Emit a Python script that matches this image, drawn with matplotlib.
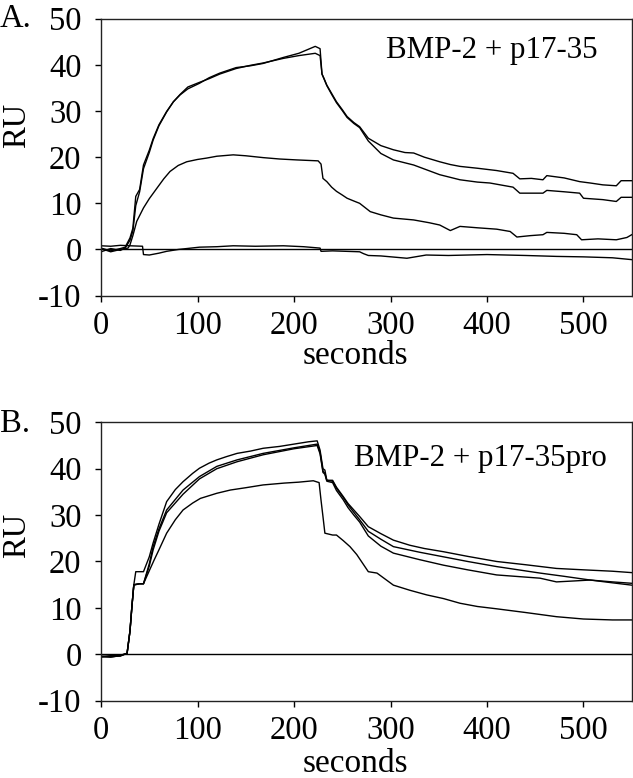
import numpy as np
import matplotlib.pyplot as plt

plt.rcParams['font.family'] = ['Liberation Serif', 'DejaVu Serif']
plt.rcParams['axes.unicode_minus'] = False

# --- panel A: BMP-2 + p17-35 ---
a1_t = [0, 10, 20, 25, 30, 33, 36, 40, 44, 50, 54, 60, 68, 75, 82, 90, 102, 112, 123, 140, 155, 168, 189, 205, 222,
        227, 229, 231, 234, 239, 244, 250, 255, 262, 268, 277, 290, 303, 315, 324, 335, 351, 362, 372, 390, 410, 427,
        434, 446, 458, 462, 480, 496, 507, 520, 534, 539, 550]
a1_v = [0.3, -0.3, 0.2, 0.5, 2.5, 4.6, 11.5, 13, 18.3, 21.5, 24, 27, 29.9, 32, 33.5, 34.8, 36, 37.2, 38.2, 39.4, 39.8,
        40.3, 41.6, 42.5, 44.0, 43.5, 38, 37.1, 35.6, 33.8, 32.0, 30.3, 28.8, 27.5, 26.6, 24.1, 22.5, 21.6, 21.0, 20.9,
        20.0, 19.0, 18.4, 18.0, 17.6, 17.1, 16.5, 15.3, 15.4, 15.1, 16.0, 15.5, 14.7, 14.4, 14.0, 13.8, 14.9, 14.9]

a2_t = [0, 10, 20, 25, 30, 33, 36, 40, 44, 50, 54, 60, 68, 75, 82, 90, 102, 112, 123, 140, 155, 168, 189, 205, 222,
        227, 229, 231, 234, 239, 244, 250, 255, 262, 268, 277, 290, 303, 324, 351, 372, 390, 403, 427, 434, 458, 462,
        480, 496, 500, 520, 534, 539, 550]
a2_v = [-0.5, 0.2, -0.2, 0.3, 2.0, 4.0, 9.5, 12.5, 17.5, 21.0, 23.7, 26.8, 29.8, 32, 33.6, 35.2, 36.2, 37.0, 38.0,
        39.2, 39.9, 40.4, 41.4, 42.0, 42.5, 42.0, 38, 37.0, 35.5, 33.6, 31.8, 30.1, 28.6, 27.3, 26.4, 23.5, 20.8,
        19.4, 18.3, 16.2, 15.1, 14.6, 14.4, 13.5, 12.2, 12.2, 12.8, 12.5, 12.2, 11.1, 10.8, 10.4, 11.3, 11.3]

a3_t = [0, 10, 20, 28, 30, 33, 37, 44, 50, 58, 65, 71.5, 80, 88.8, 100, 109.5, 120, 137, 150, 168, 185, 203, 225,
        228, 230, 234, 239, 244, 250, 255, 262, 268, 279, 290, 303, 324, 340, 351, 362, 372, 390, 410, 424, 431, 445,
        458, 462, 480, 493, 498, 515, 534, 545, 550]
a3_v = [0.2, -0.5, 0, 0.3, 1, 3, 6.1, 9, 11, 13.3, 15.3, 16.9, 18.2, 19.0, 19.5, 19.8, 20.2, 20.5, 20.3, 19.9, 19.6,
        19.4, 19.2, 18.5, 15.4, 14.7, 13.5, 12.6, 11.8, 11.1, 10.5, 10.0, 8.2, 7.5, 6.8, 6.4, 5.8, 5.3, 4.1, 5.0, 4.7,
        4.4, 3.9, 2.7, 3.0, 3.2, 3.7, 3.5, 3.2, 2.1, 2.3, 2.1, 2.6, 3.2]

a4_t = [0, 10, 20, 30, 43, 44, 50, 60, 68, 80, 102, 120, 137, 160, 189, 210, 227, 228, 240, 268, 272, 277, 290, 317,
        337, 360, 400, 440, 472, 500, 530, 550]
a4_v = [0.8, 0.7, 0.9, 0.8, 0.7, -1.1, -1.2, -0.8, -0.4, 0.0, 0.5, 0.6, 0.8, 0.7, 0.8, 0.6, 0.3, -0.4, -0.3, -0.5,
        -0.9, -1.3, -1.4, -1.9, -1.2, -1.3, -1.1, -1.3, -1.5, -1.6, -1.8, -2.2]

# --- panel B: BMP-2 + p17-35pro ---
b1_t = [0, 10, 20, 27, 30, 32, 34, 36, 44, 50, 54, 60, 68, 77, 85, 95, 102, 112, 120, 130, 141, 155, 168, 185, 200,
        215, 224, 227, 230, 232, 234, 240, 244, 251, 256, 262, 268, 277, 290, 303, 320, 335, 355, 380, 410, 440, 472,
        500, 530, 550]
b1_v = [-0.5, -0.3, -0.4, 0.2, 5, 10.3, 15, 17.8, 17.8, 21, 24, 28, 32.9, 35.5, 37.2, 39, 40.1, 41.2, 41.9, 42.6,
        43.3, 43.8, 44.4, 44.8, 45.3, 45.8, 46.0, 44, 40, 39.7, 37.5, 37.5, 36, 34, 32.5, 31.1, 29.7, 27.5, 26, 24.6,
        23.5, 22.8, 22.1, 21.1, 20.0, 19.3, 18.5, 18.2, 17.9, 17.6]

b2_t = [0, 10, 20, 27, 30, 32, 34, 40, 44, 50, 54, 60, 68, 85, 102, 120, 141, 168, 200, 224, 227, 230, 232, 234, 240,
        244, 251, 256, 262, 268, 277, 290, 303, 330, 355, 380, 410, 455, 480, 507, 530, 550]
b2_v = [-0.6, -0.4, -0.2, 0.2, 5, 10.3, 15, 15.2, 15.2, 19.5, 23.2, 27, 31.1, 35.4, 38.3, 40.5, 41.9, 43.3, 44.5,
        45.3, 43.5, 39.5, 39.0, 37.5, 37.3, 35.8, 33.8, 32.2, 30.6, 29.0, 26.5, 24.8, 23.2, 22.0, 21.0, 20.0, 18.9,
        17.5, 16.8, 16.0, 15.6, 15.3]

b3_t = [0, 10, 20, 27, 30, 32, 34, 40, 44, 50, 54, 60, 68, 85, 102, 120, 141, 168, 200, 224, 227, 230, 232, 234, 240,
        244, 251, 256, 262, 268, 277, 290, 303, 330, 355, 380, 410, 455, 472, 490, 507, 530, 550]
b3_v = [-0.4, -0.6, -0.3, 0.2, 5, 10.3, 15, 15.2, 15.2, 19, 22.5, 26.5, 30.5, 34.5, 37.8, 40, 41.5, 43, 44.3, 45.0,
        43.2, 39.2, 38.8, 37.3, 37.0, 35.3, 33.3, 31.6, 30.0, 28.5, 25.5, 23.3, 21.8, 20.4, 19.2, 18.2, 17.1, 16.4,
        15.6, 15.8, 16.0, 15.4, 14.9]

b4_t = [0, 10, 20, 27, 30, 32, 34, 40, 44, 50, 55, 60, 68, 77, 85, 95, 103, 120, 134, 150, 168, 190, 205, 220, 226,
        228, 230, 232, 234, 240, 244, 251, 258, 265, 277, 286, 303, 320, 337.5, 355, 372, 390, 410, 440, 472, 500, 530,
        550]
b4_v = [-0.5, -0.6, -0.3, 0.2, 5, 10.3, 14.9, 15.2, 15.2, 18, 20.3, 22.5, 26.1, 29, 31.1, 32.6, 33.6, 34.7, 35.4, 35.9,
        36.5, 36.9, 37.1, 37.4, 37.0, 33.2, 29.7, 26.1, 26.0, 25.7, 25.7, 24.5, 23.2, 21.5, 17.8, 17.5, 14.9, 13.8,
        12.8, 12.0, 11.0, 10.3, 9.8, 9.0, 8.1, 7.6, 7.4, 7.4]

panels = [
    ("A.", "BMP-2 + p17-35", [(a1_t, a1_v), (a2_t, a2_v), (a3_t, a3_v), (a4_t, a4_v)]),
    ("B.", "BMP-2 + p17-35pro", [(b1_t, b1_v), (b2_t, b2_v), (b3_t, b3_v), (b4_t, b4_v)]),
]

fig = plt.figure(figsize=(6.33, 7.78), dpi=100)
boxes = [[0.1596, 0.620, 0.8384, 0.356], [0.1596, 0.0994, 0.8384, 0.3578]]
# text placement (axes fraction / figure fraction)
title_pos = [(0.935, 0.858), (0.953, 0.843)]
ru_y = [0.616, 0.595]
sec_y = [-0.246, -0.257]
letter_y = [0.9653, 0.4447]
fs = 23.5

for i, (letter, title, curves) in enumerate(panels):
    ax = fig.add_axes(boxes[i])
    for t, v in curves:
        ax.plot(t, v, color="black", linewidth=1.0)
    ax.axhline(0, color="black", linewidth=1.0)
    ax.set_xlim(0, 550)
    ax.set_ylim(-10, 50)
    ax.set_xticks(np.arange(0, 501, 100))
    ax.set_yticks(np.arange(-10, 51, 10))
    ax.tick_params(direction="out", length=4, width=1, labelsize=fs, pad=7)
    ax.tick_params(axis="y", pad=10)
    for s in ax.spines.values():
        s.set_linewidth(1.0)
        s.set_color("#222222")
    ax.text(0.48, sec_y[i], "seconds", transform=ax.transAxes, ha="center", va="baseline", fontsize=fs + 0.5)
    ax.text(-0.159, ru_y[i], "RU", transform=ax.transAxes, ha="center", va="center", rotation=90, fontsize=fs)
    ax.text(title_pos[i][0], title_pos[i][1], title, transform=ax.transAxes, ha="right", va="baseline",
            fontsize=22.3)
    fig.text(0.0, letter_y[i], letter, ha="left", va="baseline", fontsize=fs)

fig.savefig("out.png", dpi=100)
